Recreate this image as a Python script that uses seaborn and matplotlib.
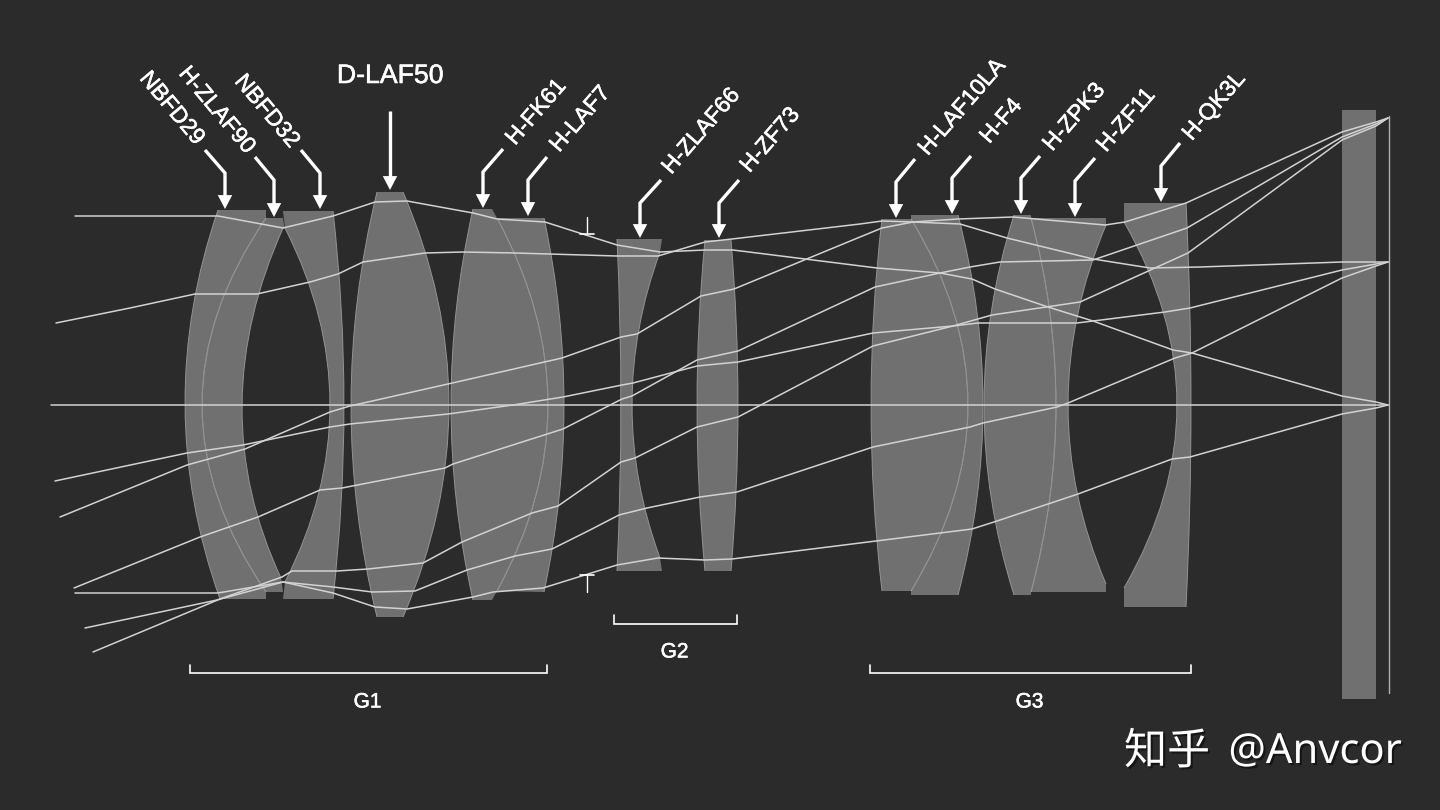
import matplotlib
matplotlib.use("Agg")
import matplotlib.pyplot as plt
import matplotlib.patheffects as pe
from matplotlib.patches import PathPatch, Rectangle
from matplotlib.path import Path
import numpy as np
import pandas as pd
import seaborn as sns

BG = "#2b2b2b"
GLASS = "#707070"
EDGE = "#939393"
RAY = "#d2d2d2"

# lens elements in pixels
# (left surface, right surface, corners at the bottom, corners at the top)
# each surface is top, middle, bottom point
NBFD29 = ([(218, 210), (185, 405), (220, 599)], [(266, 218), (202, 405), (266, 592)], [(266, 599)], [(266, 210)])
H_ZLAF90 = ([(266, 218), (202, 405), (266, 592)], [(284, 226), (242, 405), (281, 578)], [(283, 592)], [(283, 218)])
NBFD32 = ([(285, 228), (330, 405), (285, 582)], [(333, 211), (344, 405), (333, 599)], [(283, 599)], [(283, 211)])
D_LAF50 = ([(377, 192), (351, 405), (377, 617)], [(403, 192), (449, 405), (403, 617)], [], [])
H_FK61 = ([(473, 209), (451, 405), (473, 600)], [(497, 218), (548, 405), (497, 591)], [(492, 600)], [(492, 209)])
H_LAF7 = ([(497, 218), (548, 405), (497, 591)], [(544, 218), (564, 405), (544, 592)], [], [])
H_ZLAF66 = ([(617, 239), (621, 405), (617, 571)], [(660, 252), (632, 405), (660, 558)], [(662, 571)], [(662, 239)])
H_ZF73 = ([(705, 240), (697, 405), (705, 571)], [(731, 240), (738, 405), (731, 571)], [], [])
H_LAF10LA = ([(882, 219), (871, 405), (882, 591)], [(911, 219), (968, 405), (911, 591)], [], [])
H_F4 = ([(911, 219), (968, 405), (911, 591)], [(958, 215), (983, 405), (958, 595)], [(911, 595)], [(911, 215)])
H_ZPK3 = ([(1014, 215), (984, 405), (1014, 595)], [(1031, 218), (1056, 405), (1031, 592)], [(1031, 595)], [(1031, 215)])
H_ZF11 = ([(1031, 218), (1056, 405), (1031, 592)], [(1106, 225), (1068, 405), (1106, 584)], [(1106, 592)], [(1106, 218)])
H_QK3L = ([(1124, 222), (1177, 405), (1124, 588)], [(1186, 203), (1191, 405), (1186, 607)], [(1124, 607)], [(1124, 203)])
ELEMENTS = [NBFD29, H_ZLAF90, NBFD32, D_LAF50, H_FK61, H_LAF7, H_ZLAF66, H_ZF73,
            H_LAF10LA, H_F4, H_ZPK3, H_ZF11, H_QK3L]

# rays
AXIS_X = [51, 1388]
AXIS_Y = [405, 405]
UPPER_X = [75, 218, 283, 333, 375, 407, 473, 497, 545, 617, 660, 705, 733, 877, 940, 972, 995, 1048, 1093, 1173, 1192, 1342, 1376, 1388]
UPPER_Y = [216, 216, 228, 216, 202, 201, 213, 219, 222, 245, 252, 250, 250, 268, 273, 279, 289, 307, 321, 350, 353, 396, 402, 405]
LOWER_X = [75, 218, 283, 333, 375, 407, 473, 493, 543, 617, 658, 705, 732, 860, 972, 994, 1078, 1172, 1190, 1342, 1376, 1388]
LOWER_Y = [593, 593, 582, 593, 607, 609, 597, 592, 588, 565, 558, 560, 559, 543, 529, 522, 494, 459, 457, 414, 408, 405]
R1_X = [56, 130, 195, 257, 310, 338, 363, 425, 463, 515, 617, 658, 705, 732, 860, 882, 913, 958, 1013, 1105, 1125, 1186, 1342, 1376, 1388]
R1_Y = [323, 308, 294, 294, 282, 274, 262, 253, 252, 253, 256, 256, 242, 239, 224, 221, 222, 219, 217, 225, 222, 203, 132, 122, 118]
R2_X = [60, 187, 245, 330, 350, 448, 562, 621, 637, 701, 734, 860, 882, 913, 960, 1007, 1093, 1150, 1200, 1342, 1376, 1388]
R2_Y = [517, 465, 449, 412, 406, 384, 358, 337, 334, 296, 289, 237, 228, 222, 224, 238, 259, 268, 267, 262, 262, 262]
R3_X = [55, 187, 243, 330, 350, 448, 513, 563, 622, 633, 697, 738, 873, 953, 978, 1077, 1093, 1165, 1190, 1342, 1376, 1388]
R3_Y = [481, 453, 445, 427, 424, 414, 405, 397, 385, 383, 366, 362, 333, 326, 323, 323, 321, 312, 308, 270, 264, 262]
R4_X = [74, 200, 258, 320, 342, 445, 453, 563, 622, 632, 697, 738, 875, 940, 970, 1000, 1093, 1137, 1187, 1342, 1376, 1388]
R4_Y = [588, 537, 517, 490, 488, 468, 464, 429, 399, 396, 360, 351, 287, 273, 267, 262, 260, 245, 228, 137, 124, 118]
R5_X = [93, 220, 282, 292, 337, 368, 423, 462, 532, 558, 621, 635, 697, 738, 873, 953, 992, 1080, 1188, 1342, 1376, 1388]
R5_Y = [652, 599, 577, 571, 571, 569, 563, 542, 513, 506, 462, 458, 427, 417, 346, 326, 315, 302, 253, 140, 126, 118]
R6_X = [85, 217, 283, 333, 372, 415, 467, 515, 552, 590, 619, 647, 700, 737, 873, 970, 983, 1057, 1068, 1175, 1192, 1342, 1376, 1388]
R6_Y = [628, 600, 582, 587, 592, 591, 570, 556, 549, 530, 515, 508, 497, 492, 447, 427, 423, 407, 403, 358, 353, 278, 266, 262]
RAYS = [(AXIS_X, AXIS_Y), (UPPER_X, UPPER_Y), (LOWER_X, LOWER_Y), (R1_X, R1_Y),
        (R2_X, R2_Y), (R3_X, R3_Y), (R4_X, R4_Y), (R5_X, R5_Y), (R6_X, R6_Y)]

# material names with their leader arrows
NAMES = ["NBFD29", "H-ZLAF90", "NBFD32", "D-LAF50", "H-FK61", "H-LAF7", "H-ZLAF66", "H-ZF73",
         "H-LAF10LA", "H-F4", "H-ZPK3", "H-ZF11", "H-QK3L"]
NAME_X = [172, 217, 267, 390, 536, 580, 701, 770, 962, 1001, 1074, 1126, 1214]
NAME_Y = [108, 110, 111, 76, 112, 119, 131, 140, 107, 121, 117, 120, 106]
NAME_ANGLE = [-50, -50, -50, 0, 49, 49, 49, 49, 49, 49, 49, 49, 49]
ARROW_START_X = [205, 255, 301, 390, 503, 547, 661, 739, 915, 971, 1040, 1095, 1180]
ARROW_START_Y = [150, 157, 150, 111, 149, 157, 180, 180, 159, 156, 156, 158, 143]
ARROW_TIP_X = [225, 274, 320, 390, 483, 528, 640, 719, 896, 952, 1021, 1075, 1161]
ARROW_KNEE_Y = [173, 180, 173, 111, 172, 180, 203, 203, 182, 178, 178, 181, 166]
ARROW_TIP_Y = [209, 217, 209, 190, 208, 216, 238, 238, 218, 214, 214, 217, 202]

# groups
GROUPS = ["G1", "G2", "G3"]
GROUP_LEFT = [190, 614, 870]
GROUP_RIGHT = [547, 737, 1191]
GROUP_TOP = [665, 615, 665]
GROUP_BOTTOM = [673, 624, 673]
GROUP_LABEL_Y = [702, 652, 702]

STOP_X = 587
PLATE_X = [1342, 1376]
PLATE_Y = [110, 699]
IMAGE_X = 1388.5
IMAGE_Y = [116, 693]


def surface_verts(points):
    # quadratic curve that goes through the three read points
    p0, p1, p2 = np.array(points, dtype=float)
    control = 2 * p1 - 0.5 * (p0 + p2)
    return control, p2


def element_path(left, right, bottom, top):
    verts = [left[0]]
    codes = [Path.MOVETO]
    control, end = surface_verts(left)
    verts += [control, end]
    codes += [Path.CURVE3, Path.CURVE3]
    for corner in bottom:
        verts.append(corner)
        codes.append(Path.LINETO)
    verts.append(right[2])
    codes.append(Path.LINETO)
    control, end = surface_verts(right[::-1])
    verts += [control, end]
    codes += [Path.CURVE3, Path.CURVE3]
    for corner in top:
        verts.append(corner)
        codes.append(Path.LINETO)
    verts.append(left[0])
    codes.append(Path.CLOSEPOLY)
    return Path(verts, codes)


def surface_path(points):
    control, end = surface_verts(points)
    return Path([points[0], control, end], [Path.MOVETO, Path.CURVE3, Path.CURVE3])


sns.set_theme(style="dark", rc={"figure.facecolor": BG, "axes.facecolor": BG})
plt.rcParams["font.family"] = ["Liberation Sans", "Noto Sans CJK SC", "DejaVu Sans"]

fig = plt.figure(figsize=(14.4, 8.1), dpi=100)
ax = fig.add_axes([0, 0, 1, 1])

# glass
for left, right, bottom, top in ELEMENTS:
    ax.add_patch(PathPatch(element_path(left, right, bottom, top), facecolor=GLASS, edgecolor="none", zorder=1))
for left, right, bottom, top in ELEMENTS:
    for surface in (left, right):
        ax.add_patch(PathPatch(surface_path(surface), fill=False, edgecolor=EDGE, lw=0.7, zorder=2))
ax.add_patch(Rectangle((PLATE_X[0], PLATE_Y[0]), PLATE_X[1] - PLATE_X[0], PLATE_Y[1] - PLATE_Y[0],
                       facecolor=GLASS, edgecolor="none", zorder=1))
ax.plot([IMAGE_X, IMAGE_X], IMAGE_Y, color="#b0b0b0", lw=1, zorder=2)

# rays
ray_table = pd.concat([pd.DataFrame({"ray": i, "x": xs, "y": ys}) for i, (xs, ys) in enumerate(RAYS)])
sns.lineplot(data=ray_table, x="x", y="y", units="ray", estimator=None, sort=False,
             color=RAY, lw=1.1, legend=False, ax=ax, zorder=3)

# aperture stop
ax.plot([STOP_X, STOP_X], [217, 234], color="white", lw=1, zorder=4)
ax.plot([STOP_X - 7, STOP_X + 7], [234, 234], color="white", lw=1.2, zorder=4)
ax.plot([STOP_X, STOP_X], [575, 592], color="white", lw=1, zorder=4)
ax.plot([STOP_X - 7, STOP_X + 7], [575, 575], color="white", lw=1.2, zorder=4)

# names and arrows
heavier = [pe.withStroke(linewidth=0.4, foreground="white")]
for i, name in enumerate(NAMES):
    size = 19.2 if name == "D-LAF50" else 16.5
    ax.text(NAME_X[i], NAME_Y[i], name, color="white", fontsize=size, rotation=NAME_ANGLE[i],
            rotation_mode="anchor", ha="center", va="center", path_effects=heavier, zorder=5)
    ax.plot([ARROW_START_X[i], ARROW_TIP_X[i], ARROW_TIP_X[i]],
            [ARROW_START_Y[i], ARROW_KNEE_Y[i], ARROW_TIP_Y[i] - 8],
            color="white", lw=2.4, solid_joinstyle="miter", solid_capstyle="butt", zorder=5)
    ax.annotate("", xy=(ARROW_TIP_X[i], ARROW_TIP_Y[i]), xytext=(ARROW_TIP_X[i], ARROW_TIP_Y[i] - 15),
                arrowprops=dict(arrowstyle="-|>,head_length=1.0,head_width=0.52", mutation_scale=10,
                                color="white", lw=0, shrinkA=0, shrinkB=0), zorder=5)

# group brackets
for i, group in enumerate(GROUPS):
    ax.plot([GROUP_LEFT[i], GROUP_LEFT[i], GROUP_RIGHT[i], GROUP_RIGHT[i]],
            [GROUP_TOP[i], GROUP_BOTTOM[i], GROUP_BOTTOM[i], GROUP_TOP[i]],
            color="white", lw=1.2, solid_joinstyle="miter", zorder=4)
    ax.text((GROUP_LEFT[i] + GROUP_RIGHT[i]) / 2 - 1, GROUP_LABEL_Y[i], group, color="white",
            fontsize=15, ha="center", va="center", path_effects=heavier, zorder=5)

# watermark
shadow = [pe.withSimplePatchShadow(offset=(1.5, -1.5), shadow_rgbFace="black", alpha=0.5)]
ax.text(1167, 752, "知乎", color="white", fontsize=31, ha="center", va="center",
        family=["Noto Sans CJK SC", "DejaVu Sans"], path_effects=shadow, zorder=6)
ax.text(1315, 752, "@Anvcor", color="white", fontsize=30, ha="center", va="center",
        family=["Noto Sans", "DejaVu Sans"], path_effects=shadow, zorder=6)

ax.set_xlim(0, 1440)
ax.set_ylim(810, 0)
ax.axis("off")

fig.savefig("out.png", dpi=100, facecolor=BG)
